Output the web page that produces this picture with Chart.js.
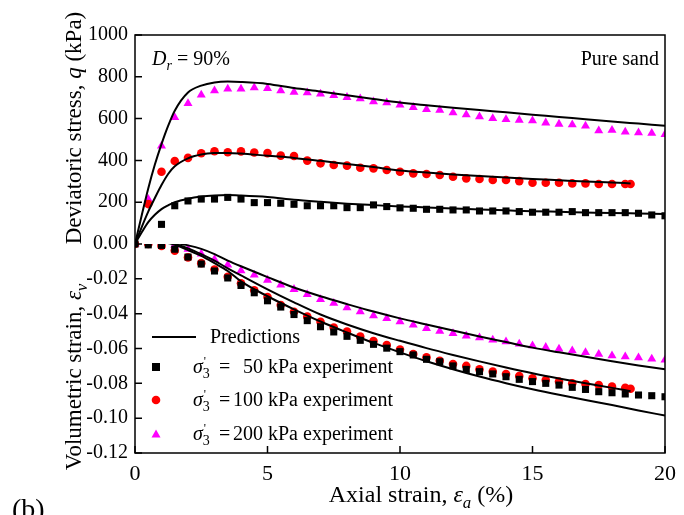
<!DOCTYPE html>
<html lang="en">
<head>
<meta charset="UTF-8">
<title>Pure sand, Dr = 90%</title>
<script src="https://cdn.jsdelivr.net/npm/chart.js@4.4.0/dist/chart.umd.min.js"></script>
<style>
  html, body { margin: 0; padding: 0; background: #fff; }
</style>
</head>
<body>
<canvas id="chart" width="684" height="515"></canvas>
<script>
// --- values ---
// experiments, axial strain (%)
const strainExp = [0, 0.5, 1, 1.5, 2, 2.5, 3, 3.5, 4, 4.5, 5, 5.5, 6, 6.5, 7, 7.5, 8, 8.5, 9, 9.5,
  10, 10.5, 11, 11.5, 12, 12.5, 13, 13.5, 14, 14.5, 15, 15.5, 16, 16.5, 17, 17.5, 18, 18.5, 19, 19.5, 20];
const strainExp100 = [0, 0.5, 1, 1.5, 2, 2.5, 3, 3.5, 4, 4.5, 5, 5.5, 6, 6.5, 7, 7.5, 8, 8.5, 9, 9.5,
  10, 10.5, 11, 11.5, 12, 12.5, 13, 13.5, 14, 14.5, 15, 15.5, 16, 16.5, 17, 17.5, 18, 18.5, 18.7];

// deviatoric stress q (kPa)
const qExp50 = [0, null, 94, 183, 206, 215, 215, 223, 215, 198, 198, 195, 190, 183, 183, 183, 174, 174, 187, 179,
  173, 171, 166, 166, 163, 163, 158, 158, 158, 155, 152, 152, 152, 155, 150, 150, 150, 150, 147, 139, 135];
const qExp100 = [0, 191, 346, 397, 412, 434, 444, 439, 443, 438, 435, 423, 421, 399, 386, 378, 375, 365, 362, 354,
  346, 338, 335, 330, 322, 314, 311, 306, 306, 301, 293, 293, 293, 290, 290, 287, 287, 287, 287];
const qExp200 = [0, 214, 469, 606, 673, 713, 734, 742, 742, 748, 745, 734, 727, 724, 718, 711, 702, 695, 681, 676,
  665, 654, 644, 641, 628, 619, 609, 601, 596, 593, 590, 580, 574, 571, 565, 542, 545, 536, 533, 530, 525];

// volumetric strain
const evExp50 = [0, -0.0005, -0.0008, -0.003, -0.0075, -0.0115, -0.0155, -0.0195, -0.0238, -0.028, -0.0326,
  -0.0362, -0.0405, -0.044, -0.0475, -0.0505, -0.053, -0.0553, -0.0576, -0.0598, -0.0618, -0.0637, -0.0662,
  -0.0676, -0.07, -0.072, -0.0733, -0.0746, -0.0762, -0.0777, -0.079, -0.08, -0.081, -0.0823, -0.0835,
  -0.0848, -0.0854, -0.0861, -0.0867, -0.0871, -0.0877];
const evExp100 = [0, 0, -0.0011, -0.0038, -0.0077, -0.011, -0.0146, -0.0188, -0.0226, -0.0266, -0.0305,
  -0.035, -0.0389, -0.0417, -0.0446, -0.048, -0.0503, -0.0532, -0.0557, -0.058, -0.0606, -0.0632, -0.0651,
  -0.067, -0.0689, -0.07, -0.072, -0.0733, -0.0746, -0.0758, -0.0771, -0.0781, -0.079, -0.08, -0.0804,
  -0.081, -0.0819, -0.0826, -0.0831];
const evExp200 = [0, 0.0013, 0.0013, -0.0006, -0.003, -0.0057, -0.0088, -0.012, -0.0153, -0.0178, -0.0207,
  -0.0235, -0.026, -0.0289, -0.0318, -0.034, -0.0366, -0.0389, -0.0412, -0.0427, -0.0446, -0.0465, -0.0484,
  -0.05, -0.0513, -0.0528, -0.0538, -0.0551, -0.0561, -0.0574, -0.0584, -0.0593, -0.0603, -0.0613, -0.0622,
  -0.0633, -0.0641, -0.0647, -0.0653, -0.066, -0.0666];

// model predictions
const strainPred = [0, 0.25, 0.5, 0.75, 1, 1.25, 1.5, 2, 2.5, 3, 3.5, 4, 5, 6, 7, 8, 9, 10, 11, 12, 13, 14, 15, 16, 17, 18, 19, 20];
const strainPred100 = [0, 0.25, 0.5, 0.75, 1, 1.25, 1.5, 2, 2.5, 3, 3.5, 4, 5, 6, 7, 8, 9, 10, 11, 12, 13, 14, 15, 16, 17, 18, 18.7];
const qPred50 = [0, 55, 105, 140, 167, 185, 200, 217, 227, 232, 234, 232, 225, 212, 202, 193, 186, 180,
  175, 170, 165, 161, 157, 154, 151, 148, 146, 144];
const qPred100 = [0, 80, 155, 220, 282, 335, 372, 410, 428, 435, 436, 433, 422, 412, 398, 383, 368, 352,
  342, 333, 325, 318, 311, 305, 299, 294, 290];
const qPred200 = [0, 135, 266, 380, 478, 565, 638, 725, 758, 773, 777, 775, 766, 746, 730, 712, 694, 677,
  664, 652, 641, 630, 619, 608, 597, 586, 576, 566];
const evPred50 = [0, 0.0007, 0.0012, 0.0015, 0.0011, 0.0005, -0.0005, -0.0035, -0.0068, -0.011, -0.0155,
  -0.0215, -0.03, -0.0375, -0.0445, -0.0508, -0.0568, -0.0622, -0.0673, -0.0719, -0.0761, -0.0799,
  -0.0834, -0.0866, -0.0896, -0.0925, -0.0956, -0.0985];
const evPred100 = [0, 0.0008, 0.0013, 0.0016, 0.0013, 0.0008, 0, -0.0025, -0.0058, -0.0095, -0.014, -0.018,
  -0.026, -0.0335, -0.0405, -0.0462, -0.0512, -0.0556, -0.0598, -0.0637, -0.0674, -0.0709, -0.0742,
  -0.0772, -0.08, -0.0826, -0.0845];
const evPred200 = [0, 0.0008, 0.0013, 0.0016, 0.0015, 0.0012, 0.0006, -0.0008, -0.0028, -0.0058, -0.0095,
  -0.0128, -0.019, -0.025, -0.03, -0.0345, -0.0388, -0.0427, -0.0462, -0.0497, -0.0531, -0.0563,
  -0.0595, -0.0622, -0.0648, -0.0673, -0.0697, -0.0719];

// axis ticks
const xTicks = { min: 0, max: 20, step: 5 };
const qTicks = { min: 0, max: 1000, step: 200 };
const evTicks = { min: -0.12, max: 0, step: 0.02 };

const RED = '#ff0000', MAGENTA = '#ff00ff', BLACK = '#000000';
const SERIF = '"Liberation Serif", "Times New Roman", serif';

function pts(xs, ys) {
  return xs.map((x, i) => ({ x: x, y: ys[i] }));
}
function fnt(size, italic) {
  return (italic ? 'italic ' : '') + size + 'px ' + SERIF;
}

function predLine(xs, ys, axis) {
  return {
    data: pts(xs, ys), yAxisID: axis, showLine: true, borderColor: BLACK, borderWidth: 2,
    pointRadius: 0, cubicInterpolationMode: 'monotone', fill: false
  };
}
function expPoints(xs, ys, axis, color, style, r) {
  return {
    data: pts(xs, ys), yAxisID: axis, showLine: false, pointStyle: style, pointRadius: r,
    pointBackgroundColor: color, pointBorderWidth: 0, backgroundColor: color, borderColor: color
  };
}

// --- text helpers (italic / subscript pieces) ---
function richWidth(ctx, parts, size) {
  let w = 0;
  for (const p of parts) {
    ctx.font = fnt(p.sub ? size * 0.7 : size, p.i);
    w += ctx.measureText(p.t).width;
  }
  return w;
}
function drawRich(ctx, parts, x, y, size) {
  let cx = x;
  for (const p of parts) {
    const s = p.sub ? size * 0.7 : size;
    ctx.font = fnt(s, p.i);
    ctx.fillText(p.t, cx, y + (p.sub ? size * 0.25 : 0));
    if (p.prime) {
      ctx.font = fnt(size * 0.6, false);
      ctx.fillText("'", cx + 1, y - size * 0.42);
    }
    ctx.font = fnt(s, p.i);
    cx += ctx.measureText(p.t).width;
  }
}

const decorPlugin = {
  id: 'decor',
  afterDraw(chart) {
    const ctx = chart.ctx;
    const a = chart.chartArea;
    const xs = chart.scales.x, yq = chart.scales.yq, yv = chart.scales.yv;
    ctx.save();
    ctx.fillStyle = BLACK;
    ctx.strokeStyle = BLACK;

    // frame
    ctx.lineWidth = 1.5;
    ctx.strokeRect(a.left, a.top, a.right - a.left, a.bottom - a.top);

    // inward tick marks
    ctx.beginPath();
    xs.ticks.forEach(t => {
      const px = xs.getPixelForValue(t.value);
      ctx.moveTo(px, a.bottom); ctx.lineTo(px, a.bottom - 7);
    });
    [yq, yv].forEach(s => s.ticks.forEach(t => {
      const py = s.getPixelForValue(t.value);
      ctx.moveTo(a.left, py); ctx.lineTo(a.left + 7, py);
    }));
    ctx.stroke();

    ctx.textBaseline = 'alphabetic';
    ctx.textAlign = 'left';

    // x title
    const xt = [{ t: 'Axial strain, ' }, { t: 'ε', i: true }, { t: 'a', i: true, sub: true }, { t: ' (%)' }];
    const xw = richWidth(ctx, xt, 24);
    drawRich(ctx, xt, 421 - xw / 2, 502, 24);

    // y titles (rotated)
    const yt1 = [{ t: 'Deviatoric stress, ' }, { t: 'q', i: true }, { t: ' (kPa)' }];
    const yt2 = [{ t: 'Volumetric strain, ' }, { t: 'ε', i: true }, { t: 'v', i: true, sub: true }];
    [[yt1, 128], [yt2, 377]].forEach(([parts, cy]) => {
      const w = richWidth(ctx, parts, 23);
      ctx.save();
      ctx.translate(81, cy);
      ctx.rotate(-Math.PI / 2);
      drawRich(ctx, parts, -w / 2, 0, 23);
      ctx.restore();
    });

    // annotations
    drawRich(ctx, [{ t: 'D', i: true }, { t: 'r', i: true, sub: true }, { t: ' = 90%' }], 152, 65, 20);
    ctx.font = fnt(20, false);
    ctx.textAlign = 'right';
    ctx.fillText('Pure sand', 659, 65);
    ctx.textAlign = 'left';

    // legend
    ctx.lineWidth = 2;
    ctx.beginPath(); ctx.moveTo(152, 337); ctx.lineTo(196, 337); ctx.stroke();
    ctx.font = fnt(20, false);
    ctx.fillText('Predictions', 210, 343);
    const rows = [
      { y: 367, color: BLACK, mark: 'rect', num: '50' },
      { y: 400, color: RED, mark: 'circle', num: '100' },
      { y: 434, color: MAGENTA, mark: 'triangle', num: '200' }
    ];
    rows.forEach(r => {
      ctx.fillStyle = r.color;
      ctx.beginPath();
      if (r.mark === 'rect') ctx.rect(152, r.y - 4, 8, 8);
      else if (r.mark === 'circle') ctx.arc(156, r.y, 4.3, 0, Math.PI * 2);
      else { ctx.moveTo(156, r.y - 4.5); ctx.lineTo(160.5, r.y + 3.5); ctx.lineTo(151.5, r.y + 3.5); ctx.closePath(); }
      ctx.fill();
      ctx.fillStyle = BLACK;
      const base = r.y + 6;
      drawRich(ctx, [{ t: 'σ', i: true }, { t: '3', sub: true, prime: true }], 193, base, 20);
      ctx.font = fnt(20, false);
      ctx.fillText('=', 219, base);
      ctx.textAlign = 'right';
      ctx.fillText(r.num, 263, base);
      ctx.textAlign = 'left';
      ctx.fillText(' kPa experiment', 263, base);
    });

    // panel label
    ctx.font = fnt(28, false);
    ctx.fillText('(b)', 12, 518);
    ctx.restore();
  }
};

new Chart(document.getElementById('chart'), {
  type: 'scatter',
  data: {
    datasets: [
      predLine(strainPred, qPred50, 'yq'),
      predLine(strainPred100, qPred100, 'yq'),
      predLine(strainPred, qPred200, 'yq'),
      predLine(strainPred, evPred50, 'yv'),
      predLine(strainPred100, evPred100, 'yv'),
      predLine(strainPred, evPred200, 'yv'),
      expPoints(strainExp, qExp50, 'yq', BLACK, 'rect', 5),
      expPoints(strainExp100, qExp100, 'yq', RED, 'circle', 4.3),
      expPoints(strainExp, qExp200, 'yq', MAGENTA, 'triangle', 5.2),
      expPoints(strainExp, evExp50, 'yv', BLACK, 'rect', 5),
      expPoints(strainExp100, evExp100, 'yv', RED, 'circle', 4.3),
      expPoints(strainExp, evExp200, 'yv', MAGENTA, 'triangle', 5.2)
    ]
  },
  options: {
    responsive: false,
    animation: false,
    layout: { padding: { top: 35, right: 15, left: 0, bottom: 0 } },
    plugins: { legend: { display: false }, tooltip: { enabled: false } },
    scales: {
      x: {
        type: 'linear', min: xTicks.min, max: xTicks.max,
        grid: { display: false, drawTicks: false }, border: { display: false },
        ticks: { stepSize: xTicks.step, color: BLACK, padding: 8, font: { family: SERIF, size: 22 } },
        afterFit(s) { s.height = 62; }
      },
      // lower half (listed first so it is stacked below)
      yv: {
        type: 'linear', position: 'left', stack: 'y', stackWeight: 1,
        min: evTicks.min, max: evTicks.max,
        grid: { display: false, drawTicks: false }, border: { display: false },
        ticks: { stepSize: evTicks.step, autoSkip: false, color: BLACK, padding: 7,
          font: { family: SERIF, size: 20 }, callback: v => v.toFixed(2) },
        afterFit(s) { s.width = 135; }
      },
      yq: {
        type: 'linear', position: 'left', stack: 'y', stackWeight: 1,
        min: qTicks.min, max: qTicks.max,
        grid: { display: false, drawTicks: false }, border: { display: false },
        ticks: { stepSize: qTicks.step, autoSkip: false, color: BLACK, padding: 7,
          font: { family: SERIF, size: 20 }, callback: v => (v === 0 ? '' : v) },
        afterFit(s) { s.width = 135; }
      }
    }
  },
  plugins: [decorPlugin]
});
</script>
</body>
</html>
